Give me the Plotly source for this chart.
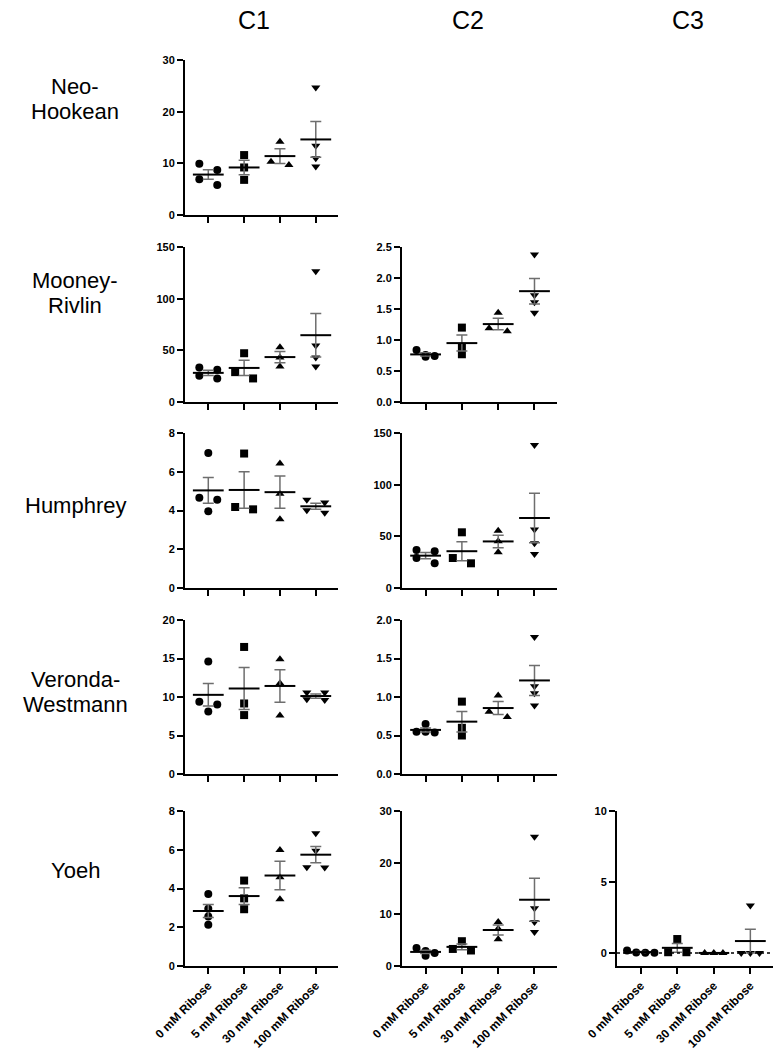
import numpy as np
import plotly.graph_objects as go

GROUPS = ["0 mM Ribose", "5 mM Ribose", "30 mM Ribose", "100 mM Ribose"]
SYMBOLS = ["circle", "square", "triangle-up", "triangle-down"]
MODELS = ["Neo-<br>Hookean", "Mooney-<br>Rivlin", "Humphrey", "Veronda-<br>Westmann", "Yoeh"]
COLUMNS = ["C1", "C2", "C3"]

# one list per ribose group (0, 5, 30, 100 mM)
neo_c1 = [[9.9, 8.7, 6.9, 5.8], [11.6, 9.2, 6.8], [14.2, 10.3, 9.7], [24.7, 13.4, 11.0, 9.4]]
mooney_c1 = [[33.4, 31.2, 25.4, 22.8], [47.2, 28.9, 22.8], [53.0, 43.0, 34.4], [126.6, 54.6, 43.0, 34.4]]
mooney_c2 = [[0.84, 0.76, 0.74, 0.73], [1.20, 0.88, 0.77], [1.44, 1.19, 1.14], [2.38, 1.72, 1.61, 1.44]]
humphrey_c1 = [[6.97, 4.66, 4.56, 3.96], [6.94, 4.06, 4.18], [6.42, 4.87, 3.55], [4.56, 4.41, 4.01, 3.89]]
humphrey_c2 = [[36.8, 35.5, 29.0, 23.9], [53.9, 23.9, 29.0], [55.5, 45.2, 34.5], [138.4, 56.5, 43.2, 32.9]]
veronda_c1 = [[14.6, 9.37, 9.03, 8.12], [16.5, 9.16, 7.65], [14.9, 11.8, 7.6], [10.6, 10.6, 9.7, 9.6]]
veronda_c2 = [[0.65, 0.55, 0.54, 0.55], [0.94, 0.60, 0.50], [1.02, 0.74, 0.81], [1.78, 1.14, 1.05, 0.89]]
yoeh_c1 = [[3.72, 2.95, 2.55, 2.13], [4.41, 3.49, 2.93], [5.99, 4.58, 3.44], [6.85, 5.95, 5.08, 5.10]]
yoeh_c2 = [[3.5, 2.9, 2.5, 2.0], [4.8, 3.0, 3.3], [8.5, 7.2, 5.2], [25.0, 11.2, 8.5, 6.6]]
yoeh_c3 = [[0.18, 0.03, 0.02, 0.02], [0.98, 0.05, 0.05], [0.0, 0.0, 0.0], [3.35, 0.0, 0.0, 0.0]]

# y tick values per panel
neo_c1_ticks = [0, 10, 20, 30]
mooney_c1_ticks = [0, 50, 100, 150]
mooney_c2_ticks = [0.0, 0.5, 1.0, 1.5, 2.0, 2.5]
humphrey_c1_ticks = [0, 2, 4, 6, 8]
humphrey_c2_ticks = [0, 50, 100, 150]
veronda_c1_ticks = [0, 5, 10, 15, 20]
veronda_c2_ticks = [0.0, 0.5, 1.0, 1.5, 2.0]
yoeh_c1_ticks = [0, 2, 4, 6, 8]
yoeh_c2_ticks = [0, 10, 20, 30]
yoeh_c3_ticks = [0, 5, 10]

# (row, col, values, ticks, axis floor)
PANELS = [
    (0, 0, neo_c1, neo_c1_ticks, 0),
    (1, 0, mooney_c1, mooney_c1_ticks, 0),
    (1, 1, mooney_c2, mooney_c2_ticks, 0),
    (2, 0, humphrey_c1, humphrey_c1_ticks, 0),
    (2, 1, humphrey_c2, humphrey_c2_ticks, 0),
    (3, 0, veronda_c1, veronda_c1_ticks, 0),
    (3, 1, veronda_c2, veronda_c2_ticks, 0),
    (4, 0, yoeh_c1, yoeh_c1_ticks, 0),
    (4, 1, yoeh_c2, yoeh_c2_ticks, 0),
    (4, 2, yoeh_c3, yoeh_c3_ticks, -0.92),
]

W, H = 783, 1050
COL_PX = [(185, 338), (402, 557), (617, 773)]
ROW_PX = [(60, 215), (247, 402), (433, 588), (620, 774), (811, 966)]
X_RANGE = [-0.65, 3.62]
FONT = "Liberation Sans, Arial, sans-serif"


def px_x(x):
    return x / W


def px_y(y):
    return 1 - y / H


def spread(values, px_per_unit, step=0.25, gap=6.5):
    """Simple GraphPad-like scatter: points closer than `gap` px share a row."""
    order = sorted(range(len(values)), key=lambda i: -values[i])
    rows = []
    for i in order:
        if rows and (values[rows[-1][0]] - values[i]) * px_per_unit < gap:
            rows[-1].append(i)
        else:
            rows.append([i])
    offsets = [0.0] * len(values)
    for row in rows:
        n = len(row)
        pos = [-step, step] if n == 2 else [(k - (n - 1) / 2) * step for k in range(n)]
        for k, i in enumerate(row):
            offsets[i] = pos[k]
    return offsets


fig = go.Figure()
layout = {}

for k, (row, col, groups, ticks, floor) in enumerate(PANELS, start=1):
    xa, ya = f"x{k}", f"y{k}"
    x0, x1 = COL_PX[col]
    y0, y1 = ROW_PX[row]
    px_per_unit = (y1 - y0) / (ticks[-1] - floor)

    for g, vals in enumerate(groups):
        offs = spread(vals, px_per_unit)
        fig.add_trace(go.Scatter(
            x=[g + o for o in offs], y=vals, mode="markers", xaxis=xa, yaxis=ya,
            marker=dict(symbol=SYMBOLS[g], size=8, color="black"),
            showlegend=False,
        ))
        v = np.array(vals, dtype=float)
        mean = v.mean()
        sem = v.std(ddof=1) / np.sqrt(len(v))
        # SEM whiskers
        fig.add_trace(go.Scatter(
            x=[g], y=[mean], mode="markers", xaxis=xa, yaxis=ya,
            marker=dict(size=1, color="rgba(0,0,0,0)"),
            error_y=dict(type="data", array=[sem], visible=True,
                         color="#6e6e6e", thickness=1.5, width=5.5),
            showlegend=False,
        ))
        # mean line
        fig.add_trace(go.Scatter(
            x=[g], y=[mean], mode="markers", xaxis=xa, yaxis=ya,
            marker=dict(symbol="line-ew", size=22, line=dict(width=2, color="black")),
            showlegend=False,
        ))

    is_float = any(t != int(t) for t in ticks)
    layout["xaxis" if k == 1 else f"xaxis{k}"] = dict(
        domain=[px_x(x0), px_x(x1)], anchor=ya, range=X_RANGE, automargin=False,
        showline=True, linewidth=2, linecolor="black", showgrid=False, zeroline=False,
        ticks="outside", ticklen=6, tickwidth=2, tickcolor="black",
        tickvals=list(range(len(GROUPS))),
        ticktext=GROUPS if row == 4 else [""] * len(GROUPS),
        tickangle=-45,
        tickfont=dict(family=FONT, size=12, color="black", weight="bold"),
    )
    layout["yaxis" if k == 1 else f"yaxis{k}"] = dict(
        domain=[px_y(y1), px_y(y0)], anchor=xa, range=[floor, ticks[-1]], automargin=False,
        showline=True, linewidth=2, linecolor="black", showgrid=False, zeroline=False,
        ticks="outside", ticklen=6, tickwidth=2, tickcolor="black",
        tickvals=ticks, tickformat=".1f" if is_float else "d",
        tickfont=dict(family=FONT, size=11, color="black", weight="bold"),
    )
    if floor < 0:
        fig.add_shape(type="line", xref=f"{xa} domain", yref=ya, x0=0, x1=1, y0=0, y1=0,
                      line=dict(color="black", width=1.5, dash="dot"))

annotations = []
title_x = [254, 468, 688]
for c, name in enumerate(COLUMNS):
    annotations.append(dict(
        text=name, x=px_x(title_x[c]), y=px_y(20), xref="paper", yref="paper",
        showarrow=False, xanchor="center", yanchor="middle",
        font=dict(family="Liberation Sans Narrow, " + FONT, size=25, color="black"),
    ))
label_y = [99, 293, 505, 692, 870]
line_gap = 25
for r, name in enumerate(MODELS):
    lines = name.split("<br>")
    for j, part in enumerate(lines):
        yc = label_y[r] + (j - (len(lines) - 1) / 2) * line_gap
        annotations.append(dict(
            text=part, x=px_x(75), y=px_y(yc), xref="paper", yref="paper",
            showarrow=False, xanchor="center", yanchor="middle",
            font=dict(family=FONT, size=22, color="black"),
        ))

fig.update_layout(
    width=W, height=H, margin=dict(l=0, r=0, t=0, b=0),
    plot_bgcolor="white", paper_bgcolor="white", hovermode=False,
    annotations=annotations, **layout,
)

# drop the default body margin so the figure fills the window exactly
fig.write_html("out.html", config={"displayModeBar": False},
               post_script="document.body.style.margin = '0';")
